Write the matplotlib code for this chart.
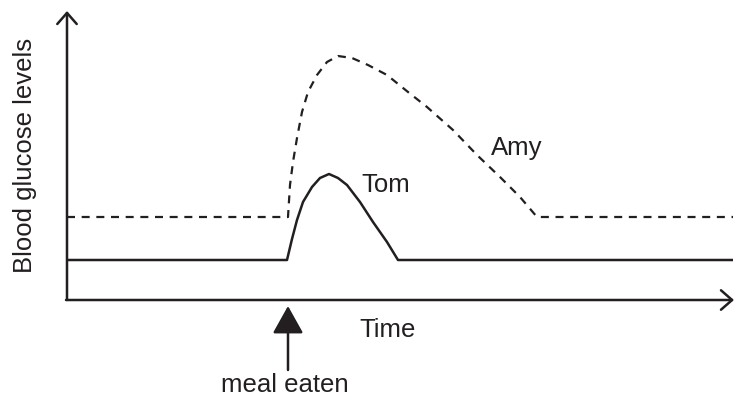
import matplotlib.pyplot as plt

plt.rcParams['font.family'] = ['Liberation Sans', 'DejaVu Sans']

# time (arbitrary units) and blood glucose level (arbitrary units)
tom_t = [0, 220, 225, 230, 236, 245, 253, 262, 271, 280, 293, 306, 320, 331, 666]
tom_g = [40, 40, 61, 80, 98, 113, 122, 126, 122, 115, 98, 78, 58, 40, 40]

amy_t = [0, 221, 223, 226, 230, 235, 241, 250, 260, 271, 285, 301, 320, 341,
         360, 386, 410, 433, 453, 470, 666]
amy_g = [83, 83, 115, 138, 162, 188, 208, 225, 238, 244, 242, 235, 225, 208,
         193, 170, 145, 123, 103, 83, 83]

meal_t = 221
ink = '#231f20'

fig = plt.figure(figsize=(7.36, 4.05), dpi=100)
ax = fig.add_axes([0, 0, 1, 1])
ax.set_xlim(-67, 669)
ax.set_ylim(-105, 300)
ax.axis('off')

# axes with open arrowheads
ax.annotate('', xy=(0, 289), xytext=(0, 0),
            arrowprops=dict(arrowstyle='->,head_length=0.8,head_width=0.7', lw=1.8, color=ink,
                            shrinkA=0, shrinkB=0))
ax.annotate('', xy=(667, 0), xytext=(-1, 0),
            arrowprops=dict(arrowstyle='->,head_length=0.8,head_width=0.7', lw=1.8, color=ink,
                            shrinkA=0, shrinkB=0))

ax.plot(tom_t, tom_g, color=ink, lw=1.8, solid_capstyle='butt', solid_joinstyle='round')
ax.plot(amy_t, amy_g, color=ink, lw=1.6, linestyle=(0, (3.6, 3.0)))

# meal eaten arrow
ax.annotate('', xy=(meal_t, -6), xytext=(meal_t, -70),
            arrowprops=dict(arrowstyle='-|>,head_length=1.7,head_width=0.95', lw=1.8,
                            color=ink, shrinkA=0, shrinkB=0, mutation_scale=10))

fs = 18.5
ax.text(-42, 145, 'Blood glucose levels', rotation=90, ha='center', va='center',
        fontsize=fs, color=ink)
ax.text(321, -30, 'Time', ha='center', va='center', fontsize=fs, color=ink)
ax.text(319, 115, 'Tom', ha='center', va='center', fontsize=fs, color=ink)
ax.text(450, 152, 'Amy', ha='center', va='center', fontsize=fs, color=ink)
ax.text(218, -85, 'meal eaten', ha='center', va='center', fontsize=fs, color=ink)

fig.savefig('out.png', dpi=100)
